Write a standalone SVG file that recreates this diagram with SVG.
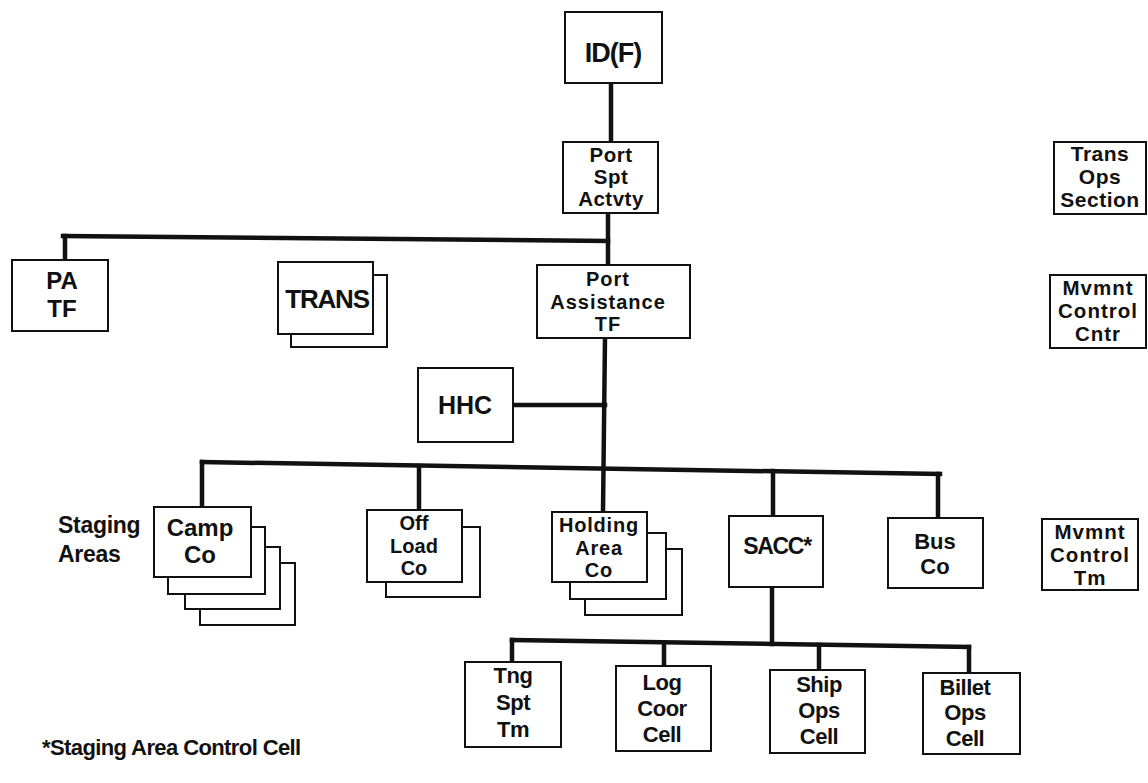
<svg xmlns="http://www.w3.org/2000/svg" width="1148" height="783" viewBox="0 0 1148 783">
<style>
.b{fill:#fff;stroke:#111;stroke-width:2}
.c{stroke:#111;stroke-width:4.5;fill:none;stroke-linecap:square}
text{font-family:"Liberation Sans",Arial,Helvetica,sans-serif;font-weight:bold;fill:#111;text-anchor:middle;font-size:20px;letter-spacing:0}
.s{text-anchor:start}
.m{font-size:22px;letter-spacing:-0.5px}
</style>
<rect width="1148" height="783" fill="#fff"/>
<g id="connectors">
<line class="c" x1="611" y1="83" x2="611" y2="142"/>
<line class="c" x1="608" y1="213" x2="608" y2="265"/>
<line class="c" x1="63" y1="236" x2="608" y2="241"/>
<line class="c" x1="65" y1="236" x2="65" y2="260"/>
<line class="c" x1="605" y1="338" x2="603" y2="512"/>
<line class="c" x1="513" y1="405" x2="605" y2="405"/>
<line class="c" x1="202" y1="462" x2="940" y2="474"/>
<line class="c" x1="202" y1="462" x2="202" y2="507"/>
<line class="c" x1="419" y1="466" x2="419" y2="510"/>
<line class="c" x1="773" y1="471" x2="773" y2="516"/>
<line class="c" x1="938" y1="474" x2="938" y2="518"/>
<line class="c" x1="772" y1="587" x2="772" y2="644"/>
<line class="c" x1="512" y1="640" x2="969" y2="647"/>
<line class="c" x1="512" y1="640" x2="512" y2="662"/>
<line class="c" x1="664" y1="643" x2="664" y2="666"/>
<line class="c" x1="819" y1="645" x2="819" y2="670"/>
<line class="c" x1="969" y1="647" x2="969" y2="673"/>
</g>
<g id="idf"><rect class="b" x="565" y="12" width="97" height="71"/><text x="613" y="62" style="font-size:27px;letter-spacing:-1px">ID(F)</text></g>
<g id="portspt"><rect class="b" x="563" y="142" width="95" height="71"/><text style="font-size:20.5px;letter-spacing:0.5px"><tspan x="611" y="162">Port</tspan><tspan x="611" y="184">Spt</tspan><tspan x="611" y="206">Actvty</tspan></text></g>
<g id="patf"><rect class="b" x="12" y="260" width="96" height="71"/><text style="font-size:24px"><tspan x="62" y="289">PA</tspan><tspan x="62" y="317">TF</tspan></text></g>
<g id="trans"><rect class="b" x="291" y="275" width="96" height="72"/><rect class="b" x="278" y="262" width="95" height="72"/><text x="327" y="308" style="font-size:26px;letter-spacing:-1.2px">TRANS</text></g>
<g id="porttf"><rect class="b" x="537" y="265" width="153" height="73"/><text style="letter-spacing:1px"><tspan x="608" y="286">Port</tspan><tspan x="608" y="308.5">Assistance</tspan><tspan x="608" y="331">TF</tspan></text></g>
<g id="hhc"><rect class="b" x="418" y="368" width="95" height="74"/><text x="465" y="414" style="font-size:25px">HHC</text></g>
<g id="staging"><text class="s" style="font-size:23px;letter-spacing:-0.3px"><tspan x="58" y="533">Staging</tspan><tspan x="58" y="562">Areas</tspan></text></g>
<g id="camp"><rect class="b" x="200" y="563" width="95" height="62"/><rect class="b" x="185" y="547" width="95" height="62"/><rect class="b" x="168" y="527" width="97" height="67"/><rect class="b" x="154" y="507" width="97" height="70"/><text style="font-size:24px"><tspan x="200" y="536">Camp</tspan><tspan x="200" y="563">Co</tspan></text></g>
<g id="offload"><rect class="b" x="386" y="527" width="94" height="70"/><rect class="b" x="367" y="510" width="95" height="72"/><text><tspan x="414" y="530">Off</tspan><tspan x="414" y="552.5">Load</tspan><tspan x="414" y="575">Co</tspan></text></g>
<g id="holding"><rect class="b" x="585" y="549" width="97" height="66"/><rect class="b" x="570" y="533" width="96" height="66"/><rect class="b" x="552" y="512" width="95" height="70"/><text style="letter-spacing:0.8px"><tspan x="599" y="532">Holding</tspan><tspan x="599" y="554.5">Area</tspan><tspan x="599" y="577">Co</tspan></text></g>
<g id="sacc"><rect class="b" x="729" y="516" width="94" height="71"/><text x="777" y="554" style="font-size:23px;letter-spacing:-1.3px">SACC*</text></g>
<g id="bus"><rect class="b" x="888" y="518" width="95" height="70"/><text style="font-size:22px"><tspan x="935" y="549">Bus</tspan><tspan x="935" y="573.5">Co</tspan></text></g>
<g id="mvmnttm"><rect class="b" x="1042" y="519" width="96" height="71"/><text style="font-size:20.5px;letter-spacing:1px"><tspan x="1090" y="539">Mvmnt</tspan><tspan x="1090" y="562">Control</tspan><tspan x="1090" y="585">Tm</tspan></text></g>
<g id="tng"><rect class="b" x="465" y="662" width="96" height="85"/><text class="m"><tspan x="513" y="683">Tng</tspan><tspan x="513" y="710">Spt</tspan><tspan x="513" y="737">Tm</tspan></text></g>
<g id="log"><rect class="b" x="616" y="666" width="95" height="85"/><text class="m"><tspan x="662" y="690">Log</tspan><tspan x="662" y="716">Coor</tspan><tspan x="662" y="742">Cell</tspan></text></g>
<g id="ship"><rect class="b" x="770" y="670" width="95" height="83"/><text class="m"><tspan x="819" y="692">Ship</tspan><tspan x="819" y="718">Ops</tspan><tspan x="819" y="744">Cell</tspan></text></g>
<g id="billet"><rect class="b" x="923" y="673" width="97" height="81"/><text class="m"><tspan x="965" y="695">Billet</tspan><tspan x="965" y="720">Ops</tspan><tspan x="965" y="746">Cell</tspan></text></g>
<g id="transops"><rect class="b" x="1054" y="142" width="92" height="72"/><text style="font-size:21px;letter-spacing:0.5px"><tspan x="1100" y="161">Trans</tspan><tspan x="1100" y="184">Ops</tspan><tspan x="1100" y="207">Section</tspan></text></g>
<g id="mvmntcntr"><rect class="b" x="1050" y="275" width="96" height="73"/><text style="font-size:20.5px;letter-spacing:1px"><tspan x="1098" y="295">Mvmnt</tspan><tspan x="1098" y="318">Control</tspan><tspan x="1098" y="341">Cntr</tspan></text></g>
<g id="footnote"><text class="s" x="42" y="755" style="font-size:22px;letter-spacing:-0.6px">*Staging Area Control Cell</text></g>
</svg>
